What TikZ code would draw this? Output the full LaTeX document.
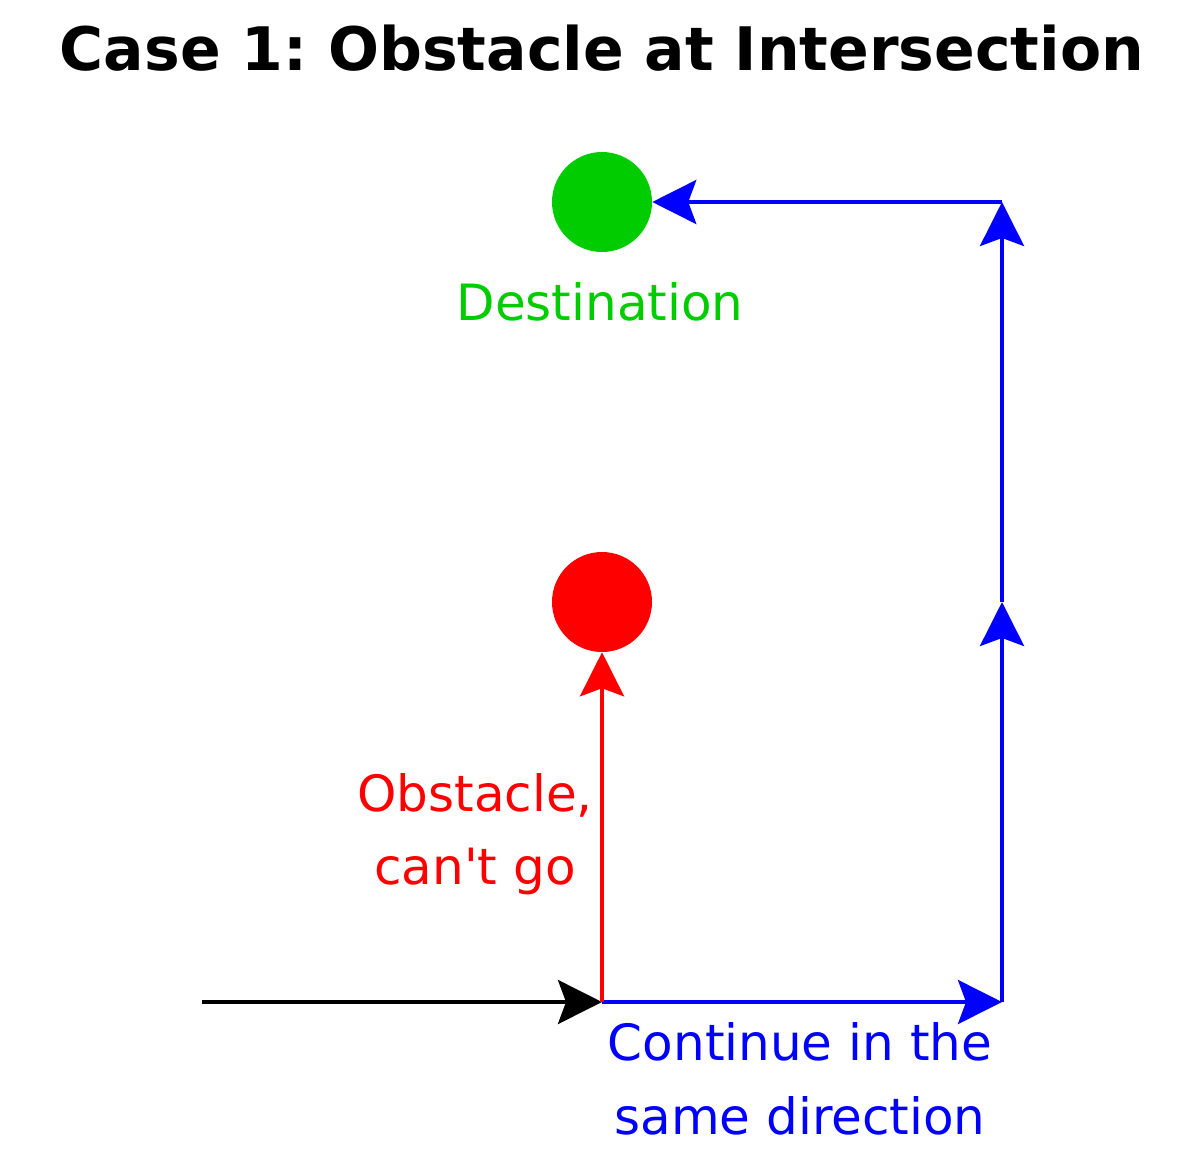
\documentclass[tikz,border=0pt]{standalone}
\usepackage{fontspec}
\setmainfont{DejaVu Sans}[Ligatures=TeXOff]
\usetikzlibrary{arrows.meta}
\definecolor{dgreen}{HTML}{00CC00}
\definecolor{dred}{HTML}{FF0000}
\definecolor{dblue}{HTML}{0000FF}
\begin{document}
\frenchspacing
\begin{tikzpicture}[x=0.75pt,y=-0.75pt,
  conn/.style={line width=3pt,-{Stealth[length=33pt,width=33pt,inset=6pt]}},
  dot/.style={circle,minimum size=75pt,inner sep=0pt,fill=#1},
  lbl/.style={font=\fontsize{37.5}{55}\selectfont,align=center,inner sep=0pt}]
\useasboundingbox (0,0) rectangle (1200,1150);
\node[font=\bfseries\fontsize{45}{54}\selectfont,anchor=base,inner sep=0pt] (title) at (602,70) {Case 1: Obstacle at Intersection};
\node[dot=dgreen] (dest) at (602,202) {};
\node[dot=dred] (obst) at (602,602) {};
\coordinate (start) at (202,1002);
\coordinate (junc) at (602,1002);
\coordinate (c1) at (1002,1002);
\coordinate (mid) at (1002,602);
\coordinate (c2) at (1002,202);
\draw[conn,black] (start) -- (junc);
\draw[conn,dblue] (junc) -- (c1);
\draw[conn,dblue] (c1) -- (mid);
\draw[conn,dblue] (mid) -- (c2);
\draw[conn,dblue] (c2) -- (dest.east);
\draw[conn,dred] (junc) -- (obst.south);
\node[lbl,text=dgreen,anchor=base] (ldest) at (600,320) {Destination};
\node[lbl,text=dred] (lobst) at (475,834) {Obstacle,\\can't go};
\node[lbl,text=dblue] (lcont) at (800,1079) {Continue in the\\same direction};
\end{tikzpicture}
\end{document}
